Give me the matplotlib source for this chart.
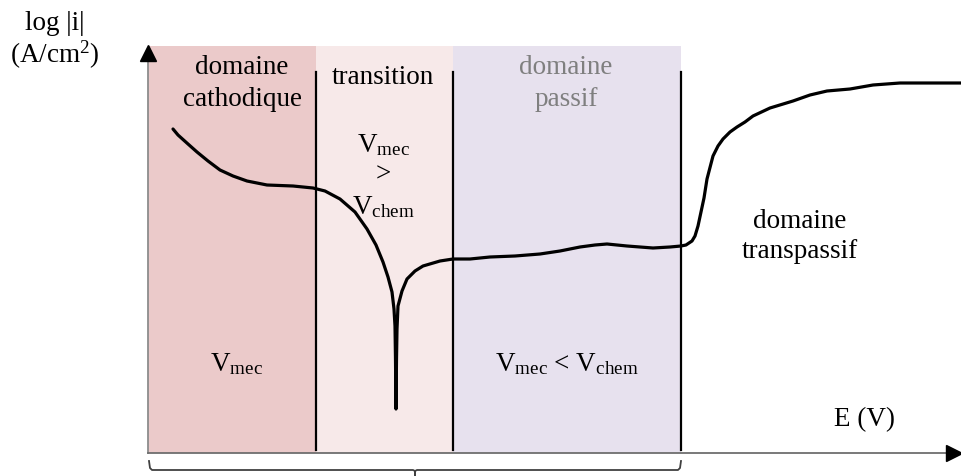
import numpy as np
import matplotlib.pyplot as plt

plt.rcParams['font.family'] = ['Liberation Serif', 'DejaVu Serif']
plt.rcParams['mathtext.fontset'] = 'custom'
plt.rcParams['mathtext.rm'] = 'Liberation Serif'
plt.rcParams['mathtext.it'] = 'Liberation Serif:italic'

# courbe schématique : E (px depuis l'axe), log|i| (px au-dessus de l'axe)
E_curve = [25, 30, 40, 49, 60, 72, 85, 99, 119, 145, 165, 177, 192, 207, 219,
           228, 235, 240, 244, 246, 247, 247.5, 248, 248.5, 249, 250, 254, 259,
           267, 275, 292, 305, 322, 342, 367, 392, 412, 432, 447, 459, 479, 505,
           522, 533, 538, 544, 547, 550, 553, 556, 559, 565, 570, 575, 582, 589,
           597, 605, 622, 645, 662, 679, 702, 725, 752, 785, 813]
logi_curve = [324, 318, 309, 301, 292, 283, 277, 272, 268, 267, 265, 262, 254,
              241, 224, 208, 191, 176, 161, 144, 127, 94, 44, 94, 124, 147, 162,
              174, 182, 187, 192, 194, 194, 196, 197, 199, 202, 206, 208, 209,
              207, 205, 206, 207, 208, 212, 217, 227, 241, 255, 274, 297, 307,
              314, 321, 326, 331, 337, 345, 352, 358, 362, 364, 368, 370, 370, 370]

# domaines
dom_bounds = [0, 168, 305, 533]
dom_colors = ['#ebcaca', '#f7e9e9', '#e7e1ee']
sep_lines = [168, 305, 533]

fig = plt.figure(figsize=(9.61, 4.77), dpi=100)
ax = fig.add_axes([0, 0, 1, 1])
ax.set_xlim(-148, 813)
ax.set_ylim(-23, 454)
ax.axis('off')

top = 407
for i in range(3):
    ax.fill_between([dom_bounds[i], dom_bounds[i + 1]], 0, top,
                    color=dom_colors[i], lw=0, zorder=0)
for x in sep_lines:
    ax.plot([x, x], [3, 381], color='black', lw=1.6, zorder=2)

# axes avec flèches
ax.plot([0, 0], [0, 398], color='#8c8c8c', lw=1.3, zorder=3)
ax.plot([0, 800], [0, 0], color='#6e6e6e', lw=1.3, zorder=3)
ax.plot([0], [400], marker='^', color='black', ms=11, zorder=4)
ax.plot([806], [0], marker='>', color='black', ms=11, zorder=4)

ax.plot(E_curve, logi_curve, color='black', lw=2.3, zorder=5,
        solid_capstyle='round', solid_joinstyle='round')

# accolade
bx = [1, 2, 4, 265, 267, 267, 267, 269, 530, 532, 533]
by = [-8, -15, -17, -17, -18, -23, -18, -17, -17, -15, -8]
ax.plot(bx, by, color='#404040', lw=1.3, zorder=3)

fs = 19.5
ax.text(94, 387, 'domaine', ha='center', va='center', fontsize=fs)
ax.text(94, 354, 'cathodique', ha='center', va='center', fontsize=fs)
ax.text(235, 377, 'transition', ha='center', va='center', fontsize=fs)
ax.text(418, 387, 'domaine', ha='center', va='center', fontsize=fs, color='#7f7f7f')
ax.text(418, 354, 'passif', ha='center', va='center', fontsize=fs, color='#7f7f7f')
ax.text(235, 309, r'V$_{\mathrm{mec}}$', ha='center', va='center', fontsize=fs)
ax.text(235, 279, '>', ha='center', va='center', fontsize=fs)
ax.text(235, 247, r'V$_{\mathrm{chem}}$', ha='center', va='center', fontsize=fs)
ax.text(88, 90, r'V$_{\mathrm{mec}}$', ha='center', va='center', fontsize=fs)
ax.text(419, 90, r'V$_{\mathrm{mec}}$ < V$_{\mathrm{chem}}$', ha='center', va='center', fontsize=fs)
ax.text(652, 232, 'domaine', ha='center', va='center', fontsize=fs)
ax.text(652, 202, 'transpassif', ha='center', va='center', fontsize=fs)
ax.text(717, 34, 'E (V)', ha='center', va='center', fontsize=fs)
ax.text(-93, 431, 'log |i|', ha='center', va='center', fontsize=fs)
ax.text(-93, 399, r'(A/cm$^{2}$)', ha='center', va='center', fontsize=fs)

fig.savefig('out.png', dpi=100)
